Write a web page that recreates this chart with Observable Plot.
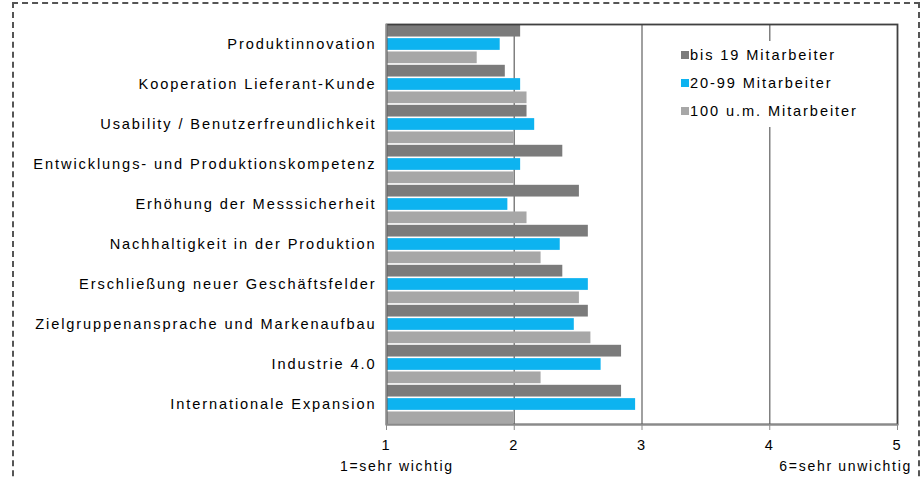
<!DOCTYPE html>
<html><head><meta charset="utf-8">
<script src="https://cdn.jsdelivr.net/npm/d3@7"></script>
<script src="https://cdn.jsdelivr.net/npm/@observablehq/plot@0.6"></script>
<style>
body{margin:0;background:#fff;}
#wrap{position:relative;width:924px;height:480px;overflow:hidden;font-family:"Liberation Sans",Arial,sans-serif;color:#000;}
#border{position:absolute;left:12px;top:2px;width:904px;height:520px;border:2px dashed #555;}
#chart{position:absolute;left:0;top:0;}
#legend{position:absolute;left:672px;top:41px;width:200px;height:86px;background:#fff;padding-left:9px;box-sizing:border-box;}
#legend > div{font-family:"Liberation Sans",Arial,sans-serif !important;font-size:14.6px !important;letter-spacing:1.9px;color:#000;margin:0 !important;}
#legend [class$="-swatch"]{height:28px;display:flex;align-items:center;padding:0 !important;}
#legend svg{margin-right:1px !important;}
.cap{position:absolute;font-size:14px;letter-spacing:1.7px;line-height:16px;white-space:nowrap;}
</style>
</head><body>
<div id="wrap">
  <div id="border"></div>
  <div id="chart"></div>
  <div id="legend"></div>
  <div class="cap" style="left:340px;top:458px;">1=sehr wichtig</div>
  <div class="cap" style="right:12px;top:458px;">6=sehr unwichtig</div>
</div>
<script>
const categories = [
  "Produktinnovation",
  "Kooperation Lieferant-Kunde",
  "Usability / Benutzerfreundlichkeit",
  "Entwicklungs- und Produktionskompetenz",
  "Erhöhung der Messsicherheit",
  "Nachhaltigkeit in der Produktion",
  "Erschließung neuer Geschäftsfelder",
  "Zielgruppenansprache und Markenaufbau",
  "Industrie 4.0",
  "Internationale Expansion"
];
const series = ["bis 19 Mitarbeiter", "20-99 Mitarbeiter", "100 u.m. Mitarbeiter"];
const bis19  = [2.05, 1.93, 2.10, 2.38, 2.51, 2.58, 2.38, 2.58, 2.84, 2.84];
const m20_99 = [1.89, 2.05, 2.16, 2.05, 1.95, 2.36, 2.58, 2.47, 2.68, 2.95];
const m100   = [1.71, 2.10, 2.00, 2.00, 2.10, 2.21, 2.51, 2.60, 2.21, 2.00];
const xTicks = [1, 2, 3, 4, 5];
const colors = ["#7b7b7b", "#0db3f0", "#a7a7a7"];

const values = [bis19, m20_99, m100];
const rows = categories.flatMap((c, i) => series.map((s, j) => ({key: c + "|" + s, category: c, series: s, value: values[j][i]})));
const keys = rows.map(d => d.key);

const chart = Plot.plot({
  width: 924, height: 480,
  marginTop: 24, marginBottom: 56, marginLeft: 386, marginRight: 27,
  style: {fontFamily: "'Liberation Sans', Arial, sans-serif", fontSize: "14.6px", color: "#000", background: "transparent", letterSpacing: "1.9px"},
  x: {domain: [1, 5], label: null},
  y: {domain: keys, paddingInner: 0.12, paddingOuter: 0.06, round: false, label: null},
  color: {domain: series, range: colors},
  marks: [
    Plot.ruleX([2, 3, 4], {stroke: "#808080", strokeWidth: 1.5}),
    Plot.barX(rows, {x1: 1, x2: "value", y: "key", fill: "series"}),
    Plot.frame({stroke: "#404040", strokeWidth: 1.8}),
    Plot.frame({anchor: "bottom", stroke: "#8a8a8a", strokeWidth: 1.6}),
    Plot.ruleX([1], {stroke: "#8a8a8a", strokeWidth: 1.6}),
    Plot.axisX({ticks: xTicks, tickSize: 6, tickPadding: 9, stroke: "#8a8a8a", tickFormat: d => String(d), label: null}),
    Plot.axisY({tickSize: 0, tickPadding: 10, tickFormat: k => k.endsWith("|" + series[1]) ? k.split("|")[0] : "", label: null})
  ]
});
document.getElementById("chart").append(chart);

const legend = Plot.legend({color: {domain: series, range: colors}, legend: "swatches", swatchSize: 8, columns: 1});
document.getElementById("legend").append(legend);
</script>
</body></html>
